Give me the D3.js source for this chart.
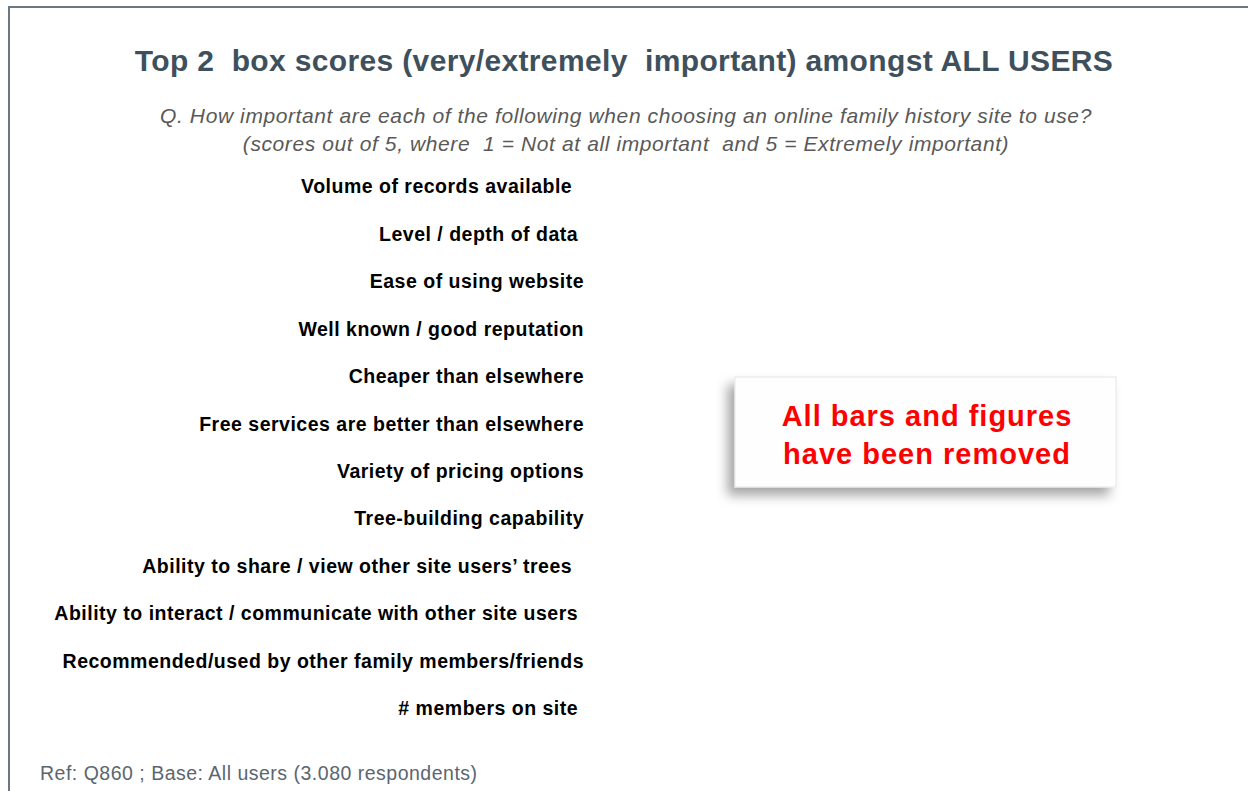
<!DOCTYPE html>
<html>
<head>
<meta charset="utf-8">
<script src="https://cdn.jsdelivr.net/npm/d3@7"></script>
<style>
  body { margin: 0; background: #fff; }
  svg { display: block; font-family: "Liberation Sans", Arial, sans-serif; }
  .y-axis text { white-space: pre; }
</style>
</head>
<body>
<div id="chart"></div>
<script>
// categories as they appear on the slide (trailing spaces kept from the source text)
const categories = [
  "Volume of records available  ",
  "Level / depth of data ",
  "Ease of using website",
  "Well known / good reputation",
  "Cheaper than elsewhere",
  "Free services are better than elsewhere",
  "Variety of pricing options",
  "Tree-building capability",
  "Ability to share / view other site users’ trees  ",
  "Ability to interact / communicate with other site users ",
  "Recommended/used by other family members/friends",
  "# members on site "
];

const title = "Top 2  box scores (very/extremely  important) amongst ALL USERS";
const subtitle = [
  "Q. How important are each of the following when choosing an online family history site to use?",
  "(scores out of 5, where  1 = Not at all important  and 5 = Extremely important)"
];
const notice = ["All bars and figures", "have been removed"];
const footnote = "Ref: Q860 ; Base: All users (3.080 respondents)";

const width = 1248, height = 791;

const svg = d3.select("#chart")
  .append("svg")
  .attr("width", width)
  .attr("height", height);

// slide frame
svg.append("path")
  .attr("d", "M9," + height + " L9,7 L" + width + ",7")
  .attr("fill", "none")
  .attr("stroke", "#6b7780")
  .attr("stroke-width", 2);

svg.append("text")
  .attr("x", 624)
  .attr("y", 71)
  .attr("text-anchor", "middle")
  .attr("fill", "#3f505d")
  .attr("font-size", 30)
  .attr("font-weight", "bold")
  .attr("letter-spacing", 0.35)
  .style("white-space", "pre")
  .text(title);

svg.selectAll(".subtitle")
  .data(subtitle)
  .enter()
  .append("text")
  .attr("class", "subtitle")
  .attr("x", 626)
  .attr("y", (d, i) => 123 + i * 28)
  .attr("text-anchor", "middle")
  .attr("fill", "#595959")
  .attr("font-size", 21)
  .attr("font-style", "italic")
  .attr("letter-spacing", 0.6)
  .style("white-space", "pre")
  .text(d => d);

// category axis, bars themselves removed
const y = d3.scaleBand()
  .domain(categories)
  .range([163.3, 732.7]);

svg.append("g")
  .attr("class", "y-axis")
  .attr("transform", "translate(590,0)")
  .call(d3.axisLeft(y).tickSize(0).tickPadding(6))
  .call(g => g.select(".domain").remove())
  .selectAll("text")
  .attr("fill", "#000")
  .attr("font-size", 19.5)
  .attr("font-weight", "bold")
  .attr("letter-spacing", 0.5)
  .attr("font-family", "Liberation Sans, Arial, sans-serif");

// notice box
const defs = svg.append("defs");
const f = defs.append("filter")
  .attr("id", "shadow")
  .attr("x", "-20%").attr("y", "-30%")
  .attr("width", "140%").attr("height", "160%");
f.append("feDropShadow")
  .attr("dx", -7)
  .attr("dy", 8)
  .attr("stdDeviation", 6)
  .attr("flood-color", "#000")
  .attr("flood-opacity", 0.35);

svg.append("rect")
  .attr("x", 735)
  .attr("y", 377)
  .attr("width", 381)
  .attr("height", 110)
  .attr("fill", "#fefefe")
  .attr("stroke", "#e6e6e6")
  .attr("stroke-width", 1)
  .attr("filter", "url(#shadow)");

svg.selectAll(".notice")
  .data(notice)
  .enter()
  .append("text")
  .attr("class", "notice")
  .attr("x", 927)
  .attr("y", (d, i) => 426 + i * 38)
  .attr("text-anchor", "middle")
  .attr("fill", "#ff0000")
  .attr("font-size", 29)
  .attr("font-weight", "bold")
  .attr("letter-spacing", 1)
  .text(d => d);

svg.append("text")
  .attr("x", 40)
  .attr("y", 780)
  .attr("fill", "#5a6670")
  .attr("font-size", 19.5)
  .attr("letter-spacing", 0.5)
  .text(footnote);
</script>
</body>
</html>
